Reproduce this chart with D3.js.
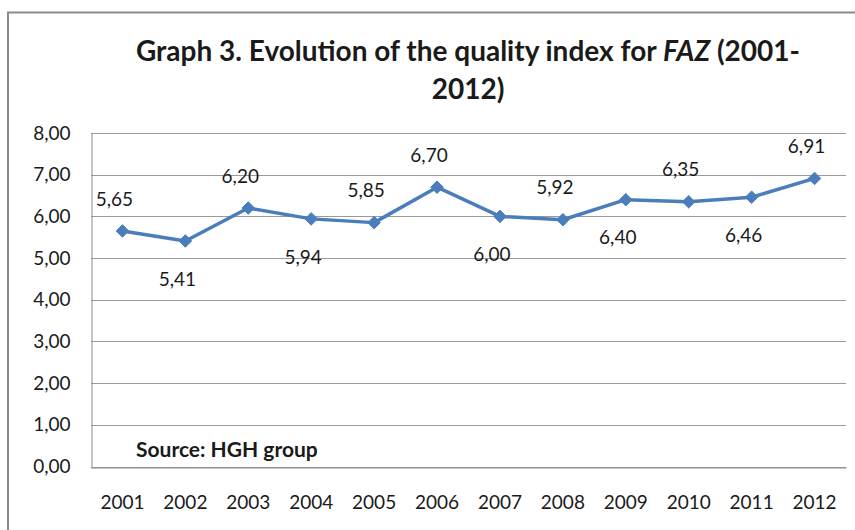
<!DOCTYPE html>
<html>
<head>
<meta charset="utf-8">
<script src="https://cdn.jsdelivr.net/npm/d3@7"></script>
<style>
  body { margin: 0; background: #fff; }
  text { font-family: Lato, "Open Sans", sans-serif; fill: #1a1a1a; }
</style>
</head>
<body>
<div id="chart"></div>
<script>
// data
const years = ["2001","2002","2003","2004","2005","2006","2007","2008","2009","2010","2011","2012"]
const quality = [5.65, 5.41, 6.20, 5.94, 5.85, 6.70, 6.00, 5.92, 6.40, 6.35, 6.46, 6.91]
const labelSide = ["above","below","above","below","above","above","below","above","below","above","below","above"]
const yTicks = [0, 1, 2, 3, 4, 5, 6, 7, 8]

const width = 855, height = 530
const margin = {top: 133, right: 9, bottom: 63, left: 91}

const svg = d3.select("#chart")
    .append("svg")
    .attr("width", width)
    .attr("height", height)

// outer frame (left + top only visible)
svg.append("path")
    .attr("d", `M8,${height} L8,12.5 L${width},12.5`)
    .attr("fill", "none")
    .attr("stroke", "#8a8a8a")
    .attr("stroke-width", 2)

// title
const title = svg.append("text")
    .attr("text-anchor", "middle")
    .attr("font-size", 28)
    .attr("font-weight", "bold")
title.append("tspan").attr("x", 468).attr("y", 61)
    .text("Graph 3. Evolution of the quality index for ")
title.append("tspan").attr("font-style", "italic").text("FAZ")
title.append("tspan").text(" (2001-")
title.append("tspan").attr("x", 468).attr("y", 99).text("2012)")

const x = d3.scaleBand()
    .domain(years)
    .range([margin.left, width - margin.right])

const y = d3.scaleLinear()
    .domain([0, 8])
    .range([height - margin.bottom - 0.5, margin.top])

const fmt = v => d3.format(".2f")(v).replace(".", ",")

// gridlines
svg.append("g")
    .selectAll("line")
    .data(yTicks)
    .enter()
    .append("line")
    .attr("x1", margin.left)
    .attr("x2", width - margin.right)
    .attr("y1", d => Math.round(y(d)) + 0.5)
    .attr("y2", d => Math.round(y(d)) + 0.5)
    .attr("stroke", "#9a9a9a")
    .attr("stroke-width", 1)

// y axis
const yAxis = d3.axisLeft(y)
    .tickValues(yTicks)
    .tickSize(0)
    .tickPadding(21)
    .tickFormat(fmt)
const gy = svg.append("g")
    .attr("transform", `translate(${margin.left + 0.5},0)`)
    .call(yAxis)
gy.select(".domain").attr("stroke", "#8a8a8a")
gy.selectAll("text").attr("font-size", 19).attr("font-family", "Lato, sans-serif").attr("fill", "#1a1a1a")

// x axis
const xAxis = d3.axisBottom(x).tickSize(0).tickPadding(28)
const gx = svg.append("g")
    .attr("transform", `translate(0,${Math.round(y(0)) + 0.5})`)
    .call(xAxis)
gx.select(".domain").attr("stroke", "#8a8a8a")
gx.selectAll("text").attr("font-size", 19).attr("font-family", "Lato, sans-serif").attr("fill", "#1a1a1a")

// line
const line = d3.line()
    .x((d, i) => x(years[i]) + x.bandwidth() / 2)
    .y(d => y(d))

svg.append("path")
    .datum(quality)
    .attr("d", line)
    .attr("fill", "none")
    .attr("stroke", "#4a7ebb")
    .attr("stroke-width", 3.5)
    .attr("stroke-linejoin", "round")

// diamond markers
svg.append("g")
    .selectAll("path")
    .data(quality)
    .enter()
    .append("path")
    .attr("d", d3.symbol().type(d3.symbolDiamond2).size(100))
    .attr("transform", (d, i) => `translate(${x(years[i]) + x.bandwidth() / 2},${y(d)})`)
    .attr("fill", "#4a7ebb")
    .attr("stroke", "#4a7ebb")
    .attr("stroke-width", 1)

// value labels
svg.append("g")
    .selectAll("text")
    .data(quality)
    .enter()
    .append("text")
    .attr("x", (d, i) => x(years[i]) + x.bandwidth() / 2 - 8)
    .attr("y", (d, i) => y(d) + (labelSide[i] === "above" ? -32 : 38))
    .attr("dy", "0.35em")
    .attr("text-anchor", "middle")
    .attr("font-size", 19)
    .text(d => fmt(d))

// source note
svg.append("text")
    .attr("x", 136)
    .attr("y", 457)
    .attr("font-size", 21)
    .attr("font-weight", "bold")
    .text("Source: HGH group")
</script>
</body>
</html>
